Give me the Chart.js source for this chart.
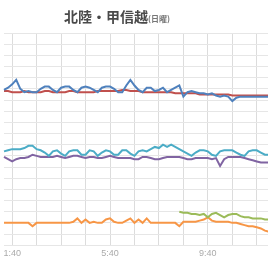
<!DOCTYPE html>
<html>
<head>
<meta charset="utf-8">
<script src="https://cdn.jsdelivr.net/npm/chart.js@4"></script>
<style>
  body { margin: 0; overflow: hidden; background: #fff; }
  #wrap { position: absolute; left: 0; top: 0; width: 272px; height: 264px; }
  #title { position: absolute; left: 64px; top: 8px; white-space: nowrap;
           font-family: "Noto Sans CJK JP", sans-serif; font-weight: bold;
           font-size: 14px; line-height: 16px; color: #4a4a4a; }
  #title small { font-size: 8px; font-weight: bold; color: #777; }
</style>
</head>
<body>
<div id="wrap"><canvas id="chart"></canvas></div>
<div id="title">北陸・甲信越<small>(日曜)</small></div>
<script>
// 10分ごとの時刻
var times = [];
var h = 1, m = 20;
for (var i = 0; i < 66; i++) {
    times.push(h + ":" + (m < 10 ? "0" + m : m));
    m += 10;
    if (m == 60) { m = 0; h++; }
}
var tickLabels = ["1:40", "5:40", "9:40"];

var blue   = [139,141,144,148,140,137,138,137,137,140, 142,142,139,137,141,142,142,139,137,141,
              142,141,139,137,141,142,142,140,137,137, 143,148,143,139,137,141,141,138,139,141,
              137,139,141,143,133,137,138,137,136,136, 135,136,134,133,134,133,129,132,133,133,
              133,133,133,133,133,133];
var red    = [138,138,137,137,137,138,137,137,137,137, 138,138,137,137,137,137,138,138,137,137,
              137,137,137,138,138,138,138,138,138,139, 139,138,138,138,137,137,137,137,137,137,
              137,137,136,136,136,136,136,136,135,135, 135,135,135,135,135,135,134,134,134,134,
              134,134,134,134,134,134];
var teal   = [84,85,86,86,86,87,89,89,86,85, 83,80,84,85,82,80,84,85,85,81,
              81,85,84,80,83,85,84,81,81,85, 85,82,80,84,85,84,86,88,87,90,
              88,90,88,86,84,82,80,83,85,85, 84,81,80,84,85,85,85,83,81,80,
              84,85,85,83,81,81];
var purple = [79,77,75,77,78,78,79,81,80,79, 79,79,79,80,79,78,79,80,80,79,
              78,79,79,78,78,79,80,79,78,78, 78,78,77,77,79,79,78,77,77,78,
              79,79,79,79,78,77,77,78,78,78, 78,77,78,71,77,79,79,79,79,78,
              77,76,75,74,74,74];
var green  = [null,null,null,null,null,null,null,null,null,null, null,null,null,null,null,null,null,null,null,null,
              null,null,null,null,null,null,null,null,null,null, null,null,null,null,null,null,null,null,null,null,
              null,null,null,30,29,29,28,28,27,28, 25,28,29,27,25,27,28,28,26,25,
              25,24,24,24,23,23];
var orange = [20,20,20,20,20,20,20,17,20,20, 20,20,20,20,20,20,20,21,24,20,
              23,20,21,20,20,23,24,21,20,20, 22,24,20,23,20,24,20,20,20,20,
              20,20,20,17,21,21,21,21,22,23, 25,22,21,21,21,21,20,20,19,18,
              17,17,16,15,13,12];

function line(data, color) {
    return { data: data, borderColor: color, borderWidth: 2, pointRadius: 0,
             tension: 0, fill: false, spanGaps: false };
}

var ctx = document.getElementById("chart").getContext("2d");
var chart = new Chart(ctx, {
    type: "line",
    data: {
        labels: times,
        datasets: [
            line(blue, "#4F81BD"),
            line(red, "#C0504D"),
            line(teal, "#4BACC6"),
            line(purple, "#8064A2"),
            line(green, "#9BBB59"),
            line(orange, "#F79646")
        ]
    },
    options: {
        responsive: true,
        maintainAspectRatio: false,
        animation: false,
        layout: { padding: { top: 33, left: 4, right: 0, bottom: 2 } },
        plugins: { legend: { display: false }, tooltip: { enabled: false } },
        scales: {
            x: {
                offset: false,
                border: { display: false },
                grid: {
                    drawTicks: false,
                    color: function(c) {
                        return /:40$/.test(times[c.index]) ? "#dcdcdc" : "rgba(0,0,0,0)";
                    }
                },
                ticks: {
                    autoSkip: false, maxRotation: 0, padding: 3,
                    color: "#aaa", font: { size: 9 },
                    callback: function(v, i) {
                        return tickLabels.indexOf(times[i]) >= 0 ? times[i] : "";
                    }
                }
            },
            y: {
                min: 0, max: 190,
                border: { display: false },
                grid: { drawTicks: false, color: "#e6e6e6" },
                ticks: { display: false, stepSize: 10 }
            }
        }
    }
});
</script>
</body>
</html>
